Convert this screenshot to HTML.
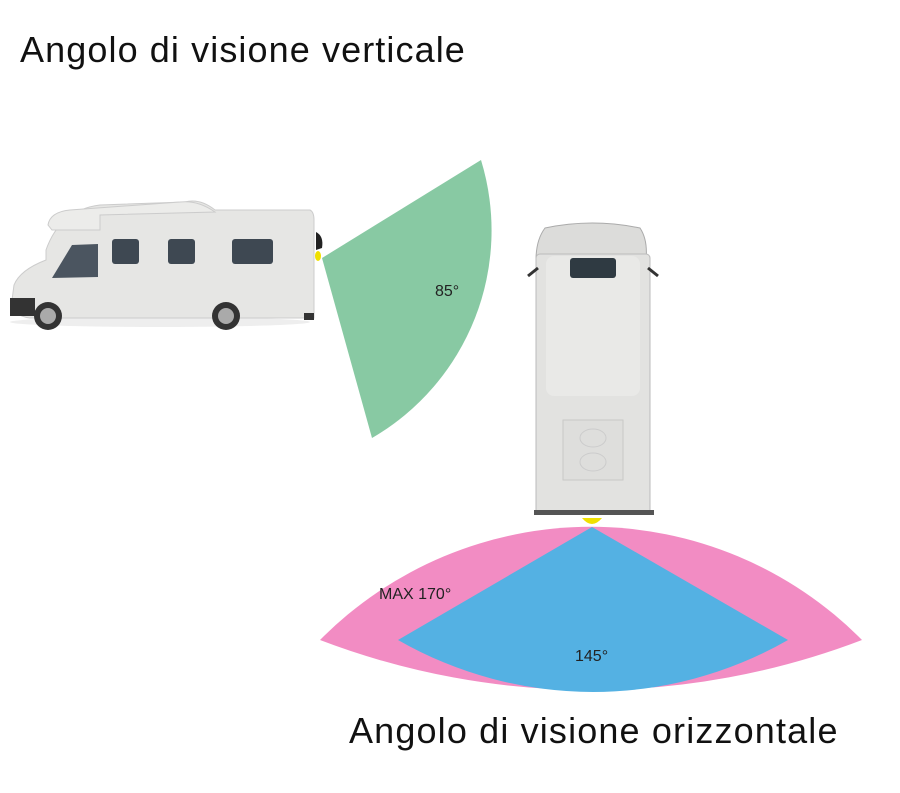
<!DOCTYPE html>
<html><head><style>
body{margin:0;background:#fff;}
</style></head><body>
<svg width="900" height="788" viewBox="0 0 900 788" xmlns="http://www.w3.org/2000/svg" font-family="Liberation Sans, sans-serif">
<rect width="900" height="788" fill="#fff"/>
<text x="20" y="62" font-size="36" letter-spacing="1.1" fill="#111">Angolo di visione verticale</text>
<text x="349" y="743" font-size="36" letter-spacing="1.15" fill="#111">Angolo di visione orizzontale</text>
<!-- green sector -->
<path d="M322,258 L481,160 A240,240 0 0 1 372,438 Z" fill="#88c9a3"/>
<text x="435" y="296" font-size="16" fill="#222">85°</text>
<!-- camper -->
<g>
<ellipse cx="160" cy="322" rx="150" ry="5" fill="#eee"/>
<path d="M46,250 Q60,210 100,205 L185,202 Q200,198 215,210 L310,210 Q314,212 314,220 L314,318 L30,318 Q12,316 12,300 L14,285 Q20,270 46,260 Z" fill="#e6e6e4" stroke="#ccc"/>
<path d="M48,225 Q50,212 70,210 L180,202 Q198,200 215,212 L100,215 L100,230 L52,230 Z" fill="#ececea" stroke="#ccc"/>
<path d="M52,278 L72,245 L98,244 L98,277 Z" fill="#4b5560"/>
<rect x="112" y="239" width="27" height="25" rx="3" fill="#3e4852"/>
<rect x="168" y="239" width="27" height="25" rx="3" fill="#3e4852"/>
<rect x="232" y="239" width="41" height="25" rx="3" fill="#3e4852"/>
<rect x="10" y="298" width="25" height="18" fill="#333"/>
<circle cx="48" cy="316" r="14" fill="#333"/><circle cx="48" cy="316" r="8" fill="#aaa"/>
<circle cx="226" cy="316" r="14" fill="#333"/><circle cx="226" cy="316" r="8" fill="#aaa"/>
<rect x="304" y="313" width="10" height="7" fill="#333"/>
<path d="M316,232 Q324,236 322,248 L316,250 Z" fill="#222"/>
<ellipse cx="318" cy="256" rx="3" ry="5" fill="#f0e000"/>
</g>
<!-- van top -->
<g>
<path d="M545,228 Q592,218 640,228 Q648,240 646,260 L536,260 Q536,240 545,228 Z" fill="#dcdcda" stroke="#aaa"/>
<rect x="536" y="254" width="114" height="260" rx="4" fill="#e2e2e0" stroke="#bbb"/>
<rect x="546" y="256" width="94" height="140" rx="8" fill="#e9e9e7"/>
<rect x="570" y="258" width="46" height="20" rx="3" fill="#2f3a42"/>
<rect x="563" y="420" width="60" height="60" fill="#dededc" stroke="#c8c8c6"/>
<ellipse cx="593" cy="438" rx="13" ry="9" fill="none" stroke="#ccc"/>
<ellipse cx="593" cy="462" rx="13" ry="9" fill="none" stroke="#ccc"/>
<path d="M528,276 L538,268 M658,276 L648,268" stroke="#333" stroke-width="3"/>
<rect x="534" y="510" width="120" height="5" fill="#555"/>
<path d="M582,518 Q592,530 602,518 Z" fill="#f0e000"/>
</g>
<!-- pink -->
<path d="M320,640 A381,381 0 0 1 862,640 A759,759 0 0 1 320,640 Z" fill="#f28cc3"/>
<path d="M592,527 L398,640 A392,392 0 0 0 788,640 Z" fill="#54b1e3"/>
<text x="379" y="599" font-size="16" fill="#222">MAX 170°</text>
<text x="575" y="661" font-size="16" fill="#222">145°</text>
</svg>
</body></html>
